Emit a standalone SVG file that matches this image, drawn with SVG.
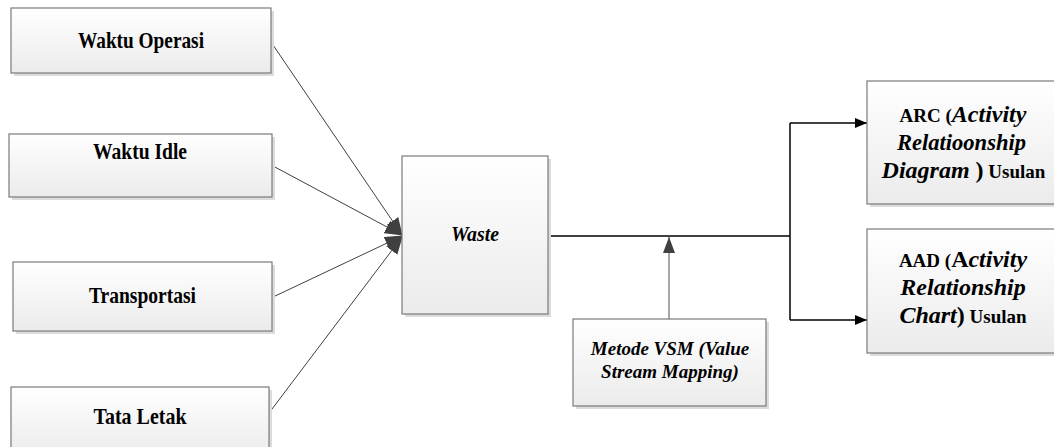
<svg xmlns="http://www.w3.org/2000/svg" width="1054" height="447" viewBox="0 0 1054 447">
<defs>
<linearGradient id="g" x1="0" y1="0" x2="0" y2="1">
<stop offset="0" stop-color="#ffffff"/>
<stop offset="1" stop-color="#ebebeb"/>
</linearGradient>
<marker id="big" markerUnits="userSpaceOnUse" markerWidth="18" markerHeight="14" refX="17" refY="7" orient="auto" viewBox="0 0 18 14">
<path d="M0,0 L18,7 L0,14 Z" fill="#404040"/>
</marker>
<marker id="small" markerUnits="userSpaceOnUse" markerWidth="12" markerHeight="10" refX="12" refY="5" orient="auto" viewBox="0 0 12 10">
<path d="M0,0 L12,5 L0,10 Z" fill="#000"/>
</marker>
<marker id="up" markerUnits="userSpaceOnUse" markerWidth="16" markerHeight="12" refX="16" refY="6" orient="auto" viewBox="0 0 16 12">
<path d="M0,0 L16,6 L0,12 Z" fill="#404040"/>
</marker>
</defs>
<style>
.box{fill:url(#g);stroke:#7a7a7a;stroke-width:1.2}
.sh{fill:#dcdcdc}
text{font-family:"Liberation Serif","Times New Roman",serif;font-weight:bold;fill:#000}
.n{font-size:19px}
.h{font-size:24px}
.i{font-style:italic}
.L{font-size:24px}
.c{text-anchor:middle}
.thin{stroke:#404040;stroke-width:1;fill:none}
.main{stroke:#000;stroke-width:1.5;fill:none}
</style>
<rect width="1054" height="447" fill="#fff"/>

<g id="connectors">
<line class="thin" x1="271" y1="42" x2="402" y2="235" marker-end="url(#big)"/>
<line class="thin" x1="273" y1="166" x2="402" y2="235" marker-end="url(#big)"/>
<line class="thin" x1="273" y1="297" x2="402" y2="236" marker-end="url(#big)"/>
<line class="thin" x1="269" y1="413" x2="402" y2="237" marker-end="url(#big)"/>
<polyline class="main" points="548,236 790,236"/>
<polyline class="main" points="790,123 790,320"/>
<line class="main" x1="790" y1="123" x2="867" y2="123" marker-end="url(#small)"/>
<line class="main" x1="790" y1="320" x2="867" y2="320" marker-end="url(#small)"/>
<line x1="669" y1="319" x2="669" y2="237" stroke="#8a8a8a" stroke-width="1.5" marker-end="url(#up)"/>
</g>

<g id="waktu-operasi">
<rect class="sh" x="14" y="11" width="260" height="65"/>
<rect class="box" x="11" y="8" width="260" height="65"/>
<text class="h c" x="141" y="48" textLength="126" lengthAdjust="spacingAndGlyphs">Waktu Operasi</text>
</g>
<g id="waktu-idle">
<rect class="sh" x="12" y="137" width="263" height="63"/>
<rect class="box" x="9" y="134" width="263" height="63"/>
<text class="h c" x="140" y="159" textLength="94" lengthAdjust="spacingAndGlyphs">Waktu Idle</text>
</g>
<g id="transportasi">
<rect class="sh" x="16" y="265" width="259" height="69"/>
<rect class="box" x="13" y="262" width="259" height="69"/>
<text class="h c" x="142.5" y="303" textLength="107" lengthAdjust="spacingAndGlyphs">Transportasi</text>
</g>
<g id="tata-letak">
<rect class="sh" x="14" y="390" width="258" height="70"/>
<rect class="box" x="11" y="387" width="258" height="70"/>
<text class="c" style="font-size:23px" x="140" y="424" textLength="93" lengthAdjust="spacingAndGlyphs">Tata Letak</text>
</g>
<g id="waste">
<rect class="sh" x="405" y="159" width="146" height="158"/>
<rect class="box" x="402" y="156" width="146" height="158"/>
<text class="i c" style="font-size:21px" x="475" y="241" textLength="48" lengthAdjust="spacingAndGlyphs">Waste</text>
</g>
<g id="vsm">
<rect class="sh" x="576" y="322" width="193" height="87"/>
<rect class="box" x="573" y="319" width="193" height="87"/>
<text class="n i c" x="670" y="355">Metode VSM (Value</text>
<text class="n i c" x="670" y="378">Stream Mapping)</text>
</g>
<g id="arc">
<rect class="sh" x="870" y="84" width="190" height="123"/>
<rect class="box" x="867" y="81" width="190" height="123"/>
<text class="c" x="963" y="122"><tspan class="n">ARC (</tspan><tspan class="L i">Activity</tspan></text>
<text class="L i c" x="961.5" y="150" textLength="129" lengthAdjust="spacingAndGlyphs">Relatioonship</text>
<text class="c" x="963.5" y="178"><tspan class="L i">Diagram</tspan><tspan class="L"> )</tspan><tspan class="n"> Usulan</tspan></text>
</g>
<g id="aad">
<rect class="sh" x="870" y="232" width="190" height="124"/>
<rect class="box" x="867" y="229" width="190" height="124"/>
<text class="c" x="963" y="267"><tspan class="n">AAD (</tspan><tspan class="L">A</tspan><tspan class="L i">ctivity</tspan></text>
<text class="L i c" x="963" y="295">Relationship</text>
<text class="c" x="963" y="323"><tspan class="L i">Chart</tspan><tspan class="L">)</tspan><tspan class="n"> Usulan</tspan></text>
</g>
</svg>
